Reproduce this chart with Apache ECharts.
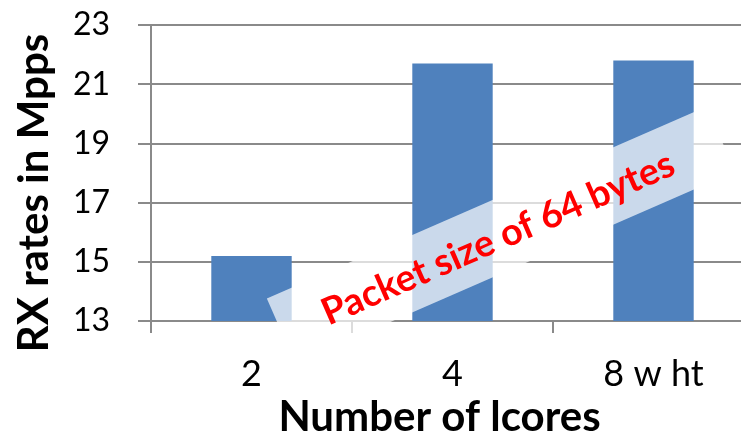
<!DOCTYPE html>
<html>
<head>
<meta charset="utf-8">
<script src="https://cdn.jsdelivr.net/npm/echarts@6/dist/echarts.min.js"></script>
<style>
  html, body { margin: 0; padding: 0; background: #ffffff; }
  #chart { width: 741px; height: 432px; }
</style>
</head>
<body>
<div id="chart"></div>
<script>
// Receive rate per lcore configuration
const categories = ['2', '4', '8 w ht'];
const rxRates = [15.2, 21.7, 21.8];
const yTicks = { min: 13, max: 23, interval: 2 };
const bandNote = 'Packet size of 64 bytes';

const FONT = 'Lato, "Open Sans", sans-serif';
const GRID_GRAY = '#8a8a8a';

const chart = echarts.init(document.getElementById('chart'), null, { renderer: 'canvas' });

chart.setOption({
  animation: false,
  backgroundColor: '#ffffff',
  grid: {
    left: 151, right: -13, top: 25, bottom: 111,
    containLabel: false,
    outerBoundsMode: 'none'
  },
  xAxis: {
    type: 'category',
    data: categories,
    name: 'Number of lcores',
    nameLocation: 'middle',
    nameGap: 68,
    nameTextStyle: {
      fontFamily: FONT, fontWeight: 'bold', fontSize: 42, color: '#000',
      padding: [0, 26, 0, 0]
    },
    axisLine: { show: true, lineStyle: { color: GRID_GRAY, width: 2 } },
    axisTick: { show: true, length: 12, alignWithLabel: false, lineStyle: { color: GRID_GRAY, width: 2 } },
    axisLabel: { fontFamily: FONT, fontSize: 36, color: '#000', margin: 35 }
  },
  yAxis: {
    type: 'value',
    min: yTicks.min,
    max: yTicks.max,
    interval: yTicks.interval,
    name: 'RX rates in Mpps',
    nameLocation: 'middle',
    nameRotate: 90,
    nameGap: 96,
    nameTextStyle: {
      fontFamily: FONT, fontWeight: 'bold', fontSize: 42, color: '#000',
      padding: [0, 40, 0, 0]
    },
    axisLine: { show: true, lineStyle: { color: GRID_GRAY, width: 2 } },
    axisTick: { show: true, length: 13, lineStyle: { color: GRID_GRAY, width: 2 } },
    axisLabel: { fontFamily: FONT, fontSize: 32, color: '#000', margin: 41 },
    splitLine: { show: true, lineStyle: { color: GRID_GRAY, width: 2 } }
  },
  series: [{
    type: 'bar',
    data: rxRates,
    barWidth: '40%',
    itemStyle: { color: '#4f81bd' }
  }],
  // Translucent diagonal ribbon with its caption, laid over the plot
  graphic: [{
    type: 'group',
    x: 501,
    y: 235,
    rotation: 23.6 * Math.PI / 180,
    zlevel: 1,
    z: 100,
    children: [{
      type: 'rect',
      zlevel: 1,
      z: 100,
      shape: { x: -240, y: -35.5, width: 480, height: 71 },
      style: { fill: 'rgba(255,255,255,0.7)' }
    }, {
      type: 'text',
      zlevel: 1,
      z: 101,
      x: -4,
      y: 2,
      style: {
        text: bandNote,
        fill: '#ff0000',
        font: 'bold 37.5px ' + FONT,
        align: 'center',
        verticalAlign: 'middle'
      }
    }]
  }]
});
</script>
</body>
</html>
